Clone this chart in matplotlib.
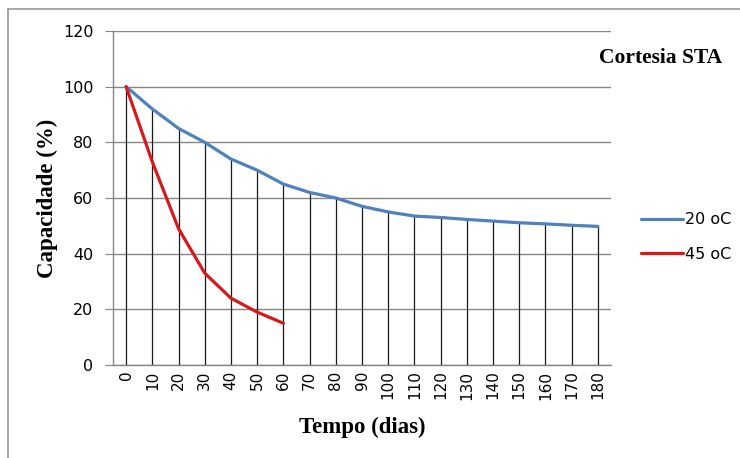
import matplotlib
matplotlib.use("Agg")
import matplotlib.pyplot as plt
from matplotlib.lines import Line2D

days = [0, 10, 20, 30, 40, 50, 60, 70, 80, 90, 100, 110, 120, 130, 140, 150, 160, 170, 180]
cap_20 = [100, 92, 85, 80, 74, 70, 65, 62, 60, 57, 55, 53.5, 53, 52.3, 51.7, 51.1, 50.7, 50.2, 49.8]
days_45 = [0, 10, 20, 30, 40, 50, 60]
cap_45 = [100, 73, 49, 33, 24, 19, 15]
yticks = [0, 20, 40, 60, 80, 100, 120]

W, H = 740, 458
fig = plt.figure(figsize=(W / 100, H / 100), dpi=100)
ax = fig.add_axes([113 / W, 1 - 365 / H, (611 - 113) / W, (365 - 31) / H])

x20 = list(range(len(days)))
x45 = list(range(len(days_45)))

ax.set_xlim(-0.5, len(days) - 0.5)
ax.set_ylim(0, 120)
ax.set_yticks(yticks)
ax.yaxis.grid(True, color='#868686', linewidth=1)
ax.set_axisbelow(True)

# drop lines
ax.vlines(x20, 0, cap_20, color='#1a1a1a', linewidth=0.9, zorder=2)

ax.plot(x20, cap_20, color='#4F81BD', linewidth=2.3, label='20 oC', zorder=3,
        solid_capstyle='round')
ax.plot(x45, cap_45, color='#D7191C', linewidth=2.3, label='45 oC', zorder=4,
        solid_capstyle='round')

ax.set_xticks(x20)
ax.set_xticklabels([str(d) for d in days], rotation=90, fontsize=11, family='DejaVu Sans')
ax.tick_params(axis='x', length=0, pad=4)
ax.tick_params(axis='y', length=6, color='#868686', labelsize=11.5, pad=8)

for s in ['top', 'right']:
    ax.spines[s].set_visible(False)
ax.spines['left'].set_color('#868686')
ax.spines['bottom'].set_color('#868686')
ax.spines['left'].set_linewidth(1)
ax.spines['bottom'].set_linewidth(1)

fig.text(47 / W, 1 - 198 / H, 'Capacidade (%)', rotation=90, ha='center', va='center',
         family='Liberation Serif', fontweight='bold', fontsize=16.5)
fig.text(362.5 / W, 1 - 427 / H, 'Tempo (dias)', ha='center', va='center',
         family='Liberation Serif', fontweight='bold', fontsize=16.5)

fig.text(722 / W, 1 - 58 / H, 'Cortesia STA', ha='right', va='center',
         family='Liberation Serif', fontweight='bold', fontsize=15.5)

leg = fig.legend(loc='center left', bbox_to_anchor=(627 / W, 1 - 237 / H), frameon=False,
                 fontsize=11.5, handlelength=2.6, handletextpad=0.15, labelspacing=1.2)

# chart border (left and top)
fig.add_artist(Line2D([8 / W, 8 / W], [0, 1 - 9 / H], color='#9a9a9a', linewidth=1.2))
fig.add_artist(Line2D([8 / W, 1], [1 - 9 / H, 1 - 9 / H], color='#9a9a9a', linewidth=1.2))

fig.savefig('out.png', dpi=100)
